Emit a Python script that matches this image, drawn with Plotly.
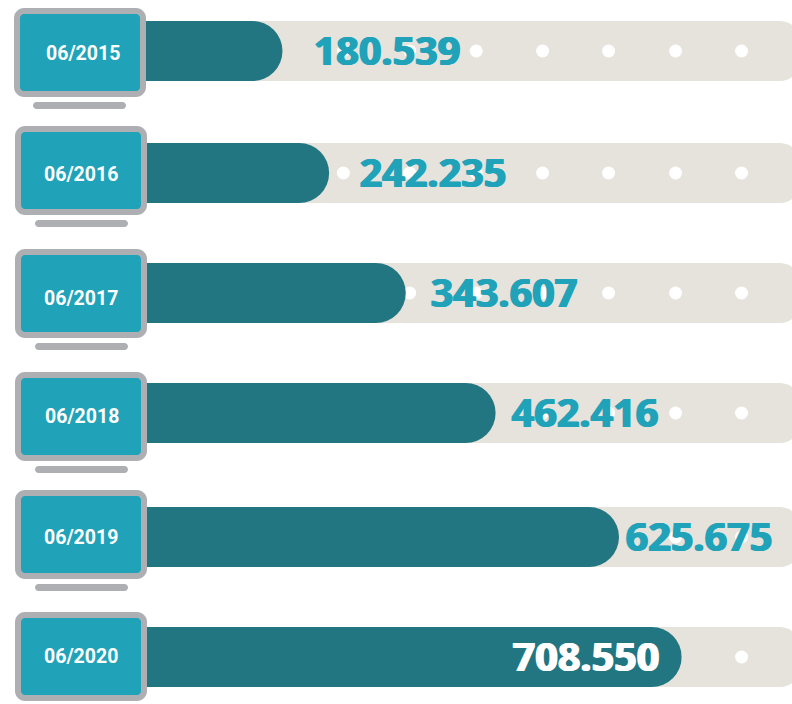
import plotly.graph_objects as go

# ---- data ----
periods = ["06/2015", "06/2016", "06/2017", "06/2018", "06/2019", "06/2020"]
values = [180539, 242235, 343607, 462416, 625675, 708550]
value_labels = ["180.539", "242.235", "343.607", "462.416", "625.675", "708.550"]
track_max = 865000
dot_values = [261100, 348800, 436800, 524600, 611900, 700500, 787800]

# ---- layout constants (pixels of the 792x704 page) ----
W, H = 792, 704
PX_PER_UNIT = 0.000756
ZERO_PX = 146.0
row_center = [51, 173, 293, 413, 537, 657]
frame_left = [14, 15, 15, 15, 15, 15]
frame_top = [8, 126, 249, 372, 490, 612]
stand_left = [33, 35, 35, 35, 35, None]
label_xy = [(83, 54), (81, 175), (81, 298), (82, 416), (81, 537), (81, 656)]
value_xy = [(387, 55), (433, 177), (504, 297), (585, 417), (699, 541), (586, 661)]
value_colors = ["#20A2B8"] * 5 + ["#FFFFFF"]

TEAL, DARK, TRACK, GREY = "#20A2B8", "#227681", "#E6E3DD", "#AEAFB3"


def to_value(px):
    return (px - ZERO_PX) / PX_PER_UNIT


def rrect(x0, y0, x1, y1, r, color):
    fx = lambda v: v / W
    fy = lambda v: 1 - v / H
    k = 0.45 * r
    p = (f"M{fx(x0+r)},{fy(y0)} L{fx(x1-r)},{fy(y0)} "
         f"C{fx(x1-k)},{fy(y0)} {fx(x1)},{fy(y0+k)} {fx(x1)},{fy(y0+r)} "
         f"L{fx(x1)},{fy(y1-r)} C{fx(x1)},{fy(y1-k)} {fx(x1-k)},{fy(y1)} {fx(x1-r)},{fy(y1)} "
         f"L{fx(x0+r)},{fy(y1)} C{fx(x0+k)},{fy(y1)} {fx(x0)},{fy(y1-k)} {fx(x0)},{fy(y1-r)} "
         f"L{fx(x0)},{fy(y0+r)} C{fx(x0)},{fy(y0+k)} {fx(x0+k)},{fy(y0)} {fx(x0+r)},{fy(y0)} Z")
    return dict(type="path", path=p, xref="paper", yref="paper",
                fillcolor=color, line=dict(width=0), layer="above")


fig = go.Figure()
fig.add_bar(y=row_center, x=[track_max] * 6, orientation="h", width=60,
            marker=dict(color=TRACK, cornerradius=20, line=dict(width=0)))
for yc in row_center:
    fig.add_scatter(x=dot_values, y=[yc] * len(dot_values), mode="markers",
                    marker=dict(color="#FFFFFF", size=13, line=dict(width=0)))
# the value bars live on an overlaying y axis so each is rounded on its own
fig.add_bar(y=row_center, x=values, orientation="h", width=60, yaxis="y2",
            marker=dict(color=DARK, cornerradius=30, line=dict(width=0)))
for (px, py), lab, col in zip(value_xy, value_labels, value_colors):
    fig.add_scatter(x=[to_value(px)], y=[py], mode="text", text=[lab], yaxis="y2",
                    textfont=dict(family="Noto Sans", size=39.5, color=col, weight=700,
                                  shadow=f"0.9px 0 0 {col}, -0.9px 0 0 {col}"),
                    textposition="middle center")

shapes = []
for i in range(6):
    l, t = frame_left[i], frame_top[i]
    shapes.append(rrect(l, t, l + 132, t + 89, 10, GREY))
    shapes.append(rrect(l + 6, t + 6, l + 126, t + 83, 4, TEAL))
    if stand_left[i] is not None:
        shapes.append(rrect(stand_left[i], t + 94, stand_left[i] + 93, t + 101, 3.5, GREY))

annotations = [dict(x=label_xy[i][0] / W, y=1 - label_xy[i][1] / H, xref="paper", yref="paper",
                    text=f"<b>{periods[i]}</b>", showarrow=False, xanchor="center", yanchor="middle",
                    font=dict(family="Roboto", size=19.5, color="#FFFFFF"))
               for i in range(6)]

fig.update_layout(
    width=W, height=H, autosize=False, margin=dict(l=0, r=0, t=0, b=0),
    barmode="overlay", showlegend=False, hovermode=False,
    paper_bgcolor="#FFFFFF", plot_bgcolor="#FFFFFF",
    xaxis=dict(range=[to_value(0), to_value(W)], visible=False, fixedrange=True),
    yaxis=dict(range=[H, 0], visible=False, fixedrange=True),
    yaxis2=dict(range=[H, 0], overlaying="y", visible=False, fixedrange=True),
    shapes=shapes, annotations=annotations,
)
fig.write_html("out.html", config=dict(displayModeBar=False),
               post_script="document.body.style.margin='0';")
